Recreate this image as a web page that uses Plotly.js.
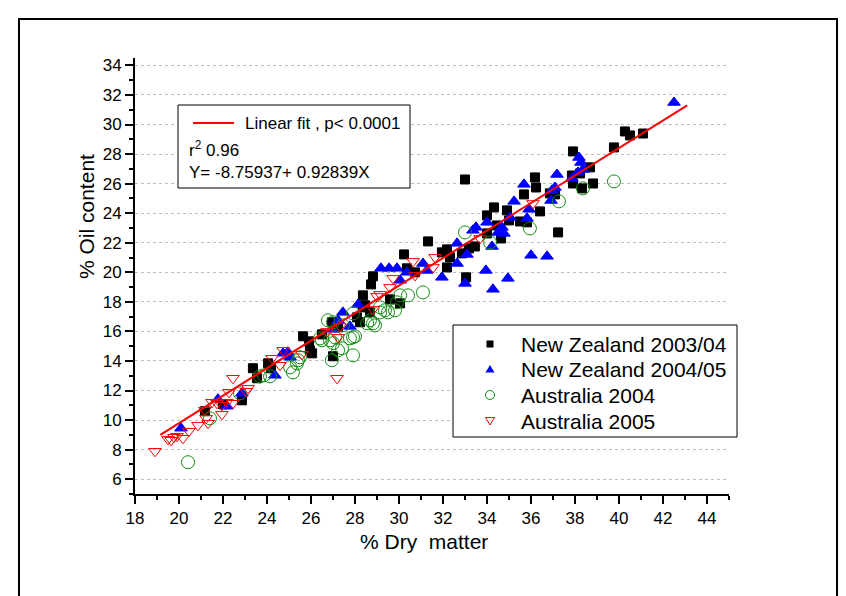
<!DOCTYPE html>
<html>
<head>
<meta charset="utf-8">
<script src="https://cdn.plot.ly/plotly-3.0.1.min.js"></script>
<style>html,body{margin:0;padding:0;background:#fff;}#chart{width:846px;height:596px;}</style>
</head>
<body>
<div id="chart"></div>
<script>
// ---- data ----
const nz0304X = [21.18,22.00,22.86,23.36,23.55,24.05,24.18,25.64,25.91,25.95,26.05,26.50,26.95,27.00,27.23,28.09,28.23,28.36,28.68,28.36,28.45,28.73,28.82,29.59,30.05,30.23,30.36,30.73,31.32,31.95,32.18,32.18,32.32,32.86,33.05,33.18,33.45,33.00,34.00,34.00,34.32,34.45,34.64,34.91,35.00,35.50,35.82,36.41,35.68,36.18,36.23,36.86,37.09,37.23,37.91,37.91,37.86,38.23,38.32,38.68,38.82,39.77,40.27,40.50,41.09];
const nz0304Y = [10.60,11.07,11.34,13.51,12.83,13.84,13.51,15.67,15.33,14.72,14.52,15.80,16.62,14.32,16.28,16.95,16.62,17.63,17.29,18.44,17.77,19.18,19.73,18.17,17.90,21.21,20.27,20.00,22.09,21.35,21.55,20.33,21.01,21.28,19.66,21.62,21.75,26.28,22.63,23.85,24.39,23.17,22.29,24.19,23.51,23.44,23.38,24.12,25.27,26.42,25.74,25.34,25.27,22.70,28.18,26.01,26.55,26.69,25.68,27.10,26.01,28.45,29.53,29.26,29.39];

const nz0405X = [20.09,21.77,22.18,22.86,24.36,24.73,24.95,25.05,26.95,27.23,27.45,27.77,28.14,29.18,29.55,29.91,30.05,30.36,31.09,31.27,31.95,32.64,32.64,33.00,33.09,33.36,33.50,34.00,33.95,34.23,34.27,34.50,34.68,34.77,34.95,35.05,35.23,35.68,35.82,35.91,36.00,36.73,36.91,36.95,37.09,37.18,37.86,38.14,38.18,38.27,38.36,42.50];
const nz0405Y = [9.45,11.41,10.94,11.81,13.03,14.52,14.59,14.25,16.14,16.75,17.29,16.34,17.83,20.27,20.27,20.27,19.46,20.00,20.60,20.13,19.66,20.60,21.96,19.25,21.21,22.84,23.04,23.38,20.13,21.75,18.85,22.70,23.04,22.63,19.59,23.71,24.80,25.95,23.65,24.26,21.15,21.08,24.86,25.54,25.74,26.62,26.35,26.76,27.77,27.43,26.96,31.49];

const aus2004X = [20.41,21.41,22.77,23.68,23.86,24.14,25.18,25.50,25.05,25.36,25.41,26.41,26.50,26.77,26.86,26.95,27.00,27.00,27.09,27.23,27.41,27.45,27.77,27.91,27.91,27.91,28.00,28.55,28.68,28.82,28.91,29.14,29.36,29.50,29.82,29.14,29.91,30.05,30.41,31.09,33.00,34.14,35.95,37.27,38.36,39.77];
const aus2004Y = [7.15,10.12,11.81,12.96,13.03,12.96,13.23,14.25,13.57,13.84,14.05,15.53,15.40,16.75,15.40,14.05,15.20,16.62,15.60,14.72,14.86,16.41,15.53,17.22,15.60,14.38,15.67,16.55,16.75,16.55,16.41,17.29,17.43,17.29,17.43,17.63,17.97,18.44,18.44,18.64,22.70,22.02,22.97,24.80,25.68,26.15];

const aus2005X = [18.91,19.50,19.64,19.77,19.91,20.18,20.45,20.86,21.32,21.23,21.18,21.50,21.73,21.95,22.18,22.45,21.95,22.27,22.45,23.05,23.14,24.23,24.59,24.73,25.59,26.73,27.18,27.23,27.32,28.82,29.00,29.14,29.59,29.73,30.64,30.73,31.55,31.64,33.68,36.09];
const aus2005Y = [7.89,8.70,8.64,8.84,8.91,8.77,9.25,9.65,9.79,10.12,10.67,11.21,11.14,11.00,11.21,11.14,10.39,11.88,12.83,11.95,12.15,14.18,13.71,14.72,14.45,16.00,12.83,15.60,16.34,17.49,18.37,18.51,18.98,19.59,20.74,19.79,20.33,21.01,22.29,24.66];

// fitted line end points as drawn
const fitX = [19.15, 43.1];
const fitY = [9.0, 31.3];

const seriesNames = ["New Zealand 2003/04", "New Zealand 2004/05", "Australia 2004", "Australia 2005"];
const fitLabel = "Linear fit , p< 0.0001";
const r2Label = "r<sup>2</sup> 0.96";
const eqLabel = "Y= -8.75937+ 0.92839X";
const xTitle = "% Dry\u00A0 matter";
const yTitle = "% Oil content";

// ---- styles ----
const FONT = "Liberation Sans, Arial, Helvetica, sans-serif";
const styles = [
  {symbol: "square", size: 9, color: "#000000"},
  {symbol: "triangle-up", size: 11, color: "#0000ff"},
  {symbol: "circle-open", size: 13, color: "#118c11"},
  {symbol: "triangle-down-open", size: 11, color: "#ff0000"}
];
const xs = [nz0304X, nz0405X, aus2004X, aus2005X];
const ys = [nz0304Y, nz0405Y, aus2004Y, aus2005Y];

const traces = [];
for (let i = 0; i < 4; i++) {
  const s = styles[i];
  traces.push({
    type: "scatter", mode: "markers", x: xs[i], y: ys[i], name: seriesNames[i], showlegend: false,
    marker: {symbol: s.symbol, size: s.size, color: s.color, line: {color: s.color, width: 1}},
    hoverinfo: "skip"
  });
}
traces.push({type: "scatter", mode: "lines", x: fitX, y: fitY, name: "Linear fit", showlegend: false,
  line: {color: "#ff0000", width: 2}, hoverinfo: "skip"});

// pixel -> paper helpers for the plot area (l=135, r=729, t=58, b=494)
const L = 135, R = 729, T = 58, B = 494;
const px = v => (v - L) / (R - L);
const py = v => (B - v) / (B - T);

// ---- hand-built legend (box, symbols, labels) ----
const legRows = [344, 369, 395, 421];
const symX = 490, textX = 519;
const shapes = [
  {type: "rect", xref: "paper", yref: "paper", x0: px(19), x1: px(837), y0: py(640), y1: py(19),
   line: {color: "#000", width: 2}, fillcolor: "rgba(0,0,0,0)"},
  {type: "rect", xref: "paper", yref: "paper", x0: px(178), x1: px(410), y0: py(188), y1: py(105),
   line: {color: "#000", width: 1}, fillcolor: "#ffffff", layer: "above"},
  {type: "line", xref: "paper", yref: "paper", x0: px(193), x1: px(234), y0: py(123), y1: py(123),
   line: {color: "#ff0000", width: 2}, layer: "above"},
  {type: "rect", xref: "paper", yref: "paper", x0: px(453), x1: px(737), y0: py(437), y1: py(325),
   line: {color: "#000", width: 1}, fillcolor: "#ffffff", layer: "above"}
];
const pth = pts => "M" + pts.map(p => px(p[0]) + "," + py(p[1])).join("L") + "Z";
shapes.push({type: "rect", xref: "paper", yref: "paper", x0: px(symX - 3.5), x1: px(symX + 3.5),
  y0: py(legRows[0] + 3.5), y1: py(legRows[0] - 3.5), line: {width: 0}, fillcolor: "#000000", layer: "above"});
shapes.push({type: "path", xref: "paper", yref: "paper", path: pth([[symX - 4.5, legRows[1] + 3.5], [symX + 4.5, legRows[1] + 3.5], [symX, legRows[1] - 4]]),
  line: {width: 0}, fillcolor: "#0000ff", layer: "above"});
shapes.push({type: "circle", xref: "paper", yref: "paper", x0: px(symX - 4.5), x1: px(symX + 4.5),
  y0: py(legRows[2] + 4.5), y1: py(legRows[2] - 4.5), line: {color: "#118c11", width: 1}, fillcolor: "rgba(0,0,0,0)", layer: "above"});
shapes.push({type: "path", xref: "paper", yref: "paper", path: pth([[symX - 4.5, legRows[3] - 3.5], [symX + 4.5, legRows[3] - 3.5], [symX, legRows[3] + 4]]),
  line: {color: "#ff0000", width: 1}, fillcolor: "rgba(0,0,0,0)", layer: "above"});

const annotations = [
  {xref: "paper", yref: "paper", x: px(243), y: py(123), xanchor: "left", yanchor: "middle",
   text: fitLabel, showarrow: false, font: {family: FONT, size: 17}},
  {xref: "paper", yref: "paper", x: px(187), y: py(149), xanchor: "left", yanchor: "middle",
   text: r2Label, showarrow: false, font: {family: FONT, size: 17}},
  {xref: "paper", yref: "paper", x: px(187), y: py(172), xanchor: "left", yanchor: "middle",
   text: eqLabel, showarrow: false, font: {family: FONT, size: 17}},
  {xref: "paper", yref: "paper", x: px(86), y: py(217), xanchor: "center", yanchor: "middle",
   text: yTitle, textangle: -90, showarrow: false, font: {family: FONT, size: 21}},
  {xref: "paper", yref: "paper", x: px(424), y: py(541), xanchor: "center", yanchor: "middle",
   text: xTitle, showarrow: false, font: {family: FONT, size: 21}}
];
for (let i = 0; i < 4; i++) {
  annotations.push({xref: "paper", yref: "paper", x: px(textX), y: py(legRows[i]), xanchor: "left", yanchor: "middle",
    text: seriesNames[i], showarrow: false, font: {family: FONT, size: 21}});
}

const layout = {
  width: 846, height: 596,
  margin: {l: L, r: 846 - R, t: T, b: 596 - B, pad: 0},
  paper_bgcolor: "#ffffff", plot_bgcolor: "#ffffff",
  font: {family: FONT, color: "#000000", size: 17},
  showlegend: false,
  xaxis: {
    range: [18, 45], tick0: 18, dtick: 2, ticks: "outside", ticklen: 8, tickwidth: 2,
    tickcolor: "#000", showline: true, linecolor: "#000", linewidth: 2, showgrid: false,
    zeroline: false, tickfont: {family: FONT, size: 17},
    minor: {dtick: 1, tick0: 18, ticks: "outside", ticklen: 4, tickwidth: 2, tickcolor: "#000", showgrid: false}
  },
  yaxis: {
    range: [5, 34.5], tick0: 6, dtick: 2, ticks: "outside", ticklen: 8, tickwidth: 2,
    tickcolor: "#000", showline: true, linecolor: "#000", linewidth: 2,
    showgrid: true, gridcolor: "#bdbdbd", gridwidth: 1, griddash: "dot",
    zeroline: false, tickfont: {family: FONT, size: 17},
    minor: {dtick: 1, tick0: 5, ticks: "outside", ticklen: 4, tickwidth: 2, tickcolor: "#000", showgrid: false}
  },
  shapes: shapes,
  annotations: annotations
};

Plotly.newPlot("chart", traces, layout, {displayModeBar: false, staticPlot: true});
</script>
</body>
</html>
